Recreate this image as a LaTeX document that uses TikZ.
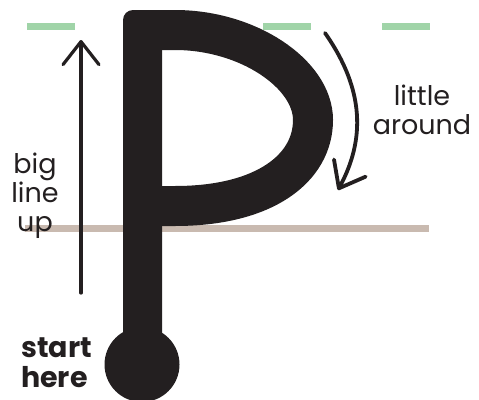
\documentclass[tikz,border=0pt]{standalone}
\usepackage{fontspec}
\setmainfont{Poppins}
\usetikzlibrary{arrows.meta,positioning}
\usepackage{xcolor}
\definecolor{guidegreen}{RGB}{160,212,168}
\definecolor{guidebrown}{RGB}{201,186,176}
\definecolor{inkblack}{RGB}{35,31,32}

\begin{document}
\begin{tikzpicture}[x=1pt, y=-1pt]

\tikzstyle{guide} = [line width=7pt];
\tikzstyle{letter} = [inkblack, line width=40pt];
\tikzstyle{hint} = [inkblack, line width=3.2pt, line cap=round, -{Straight Barb[length=23pt, width=36pt, line cap=round, line join=round]}];
\tikzstyle{label} = [inner sep=0pt, align=center, text=inkblack, font=\fontsize{27}{29}\selectfont];

\useasboundingbox (0,0) rectangle (479,399);

% Guide line unten
\draw[guide, guidebrown] (25,228) -- (429,228);

% Buchstabe P
\draw[letter] (142,30) -- (175,30) .. controls (248,30) and (313,74) .. (313,120) .. controls (313,168) and (265,206) .. (175,206) -- (142,206);
\fill[inkblack, rounded corners=10pt] (123,10) rectangle (162,364);
\fill[inkblack] (142,364.5) circle (37.5);

% Guide line oben
\draw[guide, guidegreen] (27,26.5) -- (75,26.5);
\draw[guide, guidegreen] (263,26.5) -- (311,26.5);
\draw[guide, guidegreen] (382,26.5) -- (430,26.5);

% Hinweise
\coordinate (upfrom) at (81,293);
\coordinate (upto) at (81,40);
\coordinate (roundfrom) at (325,33);
\coordinate (roundto) at (338,190);

\node (bigup) [label, anchor=north] at (35,153) {big\\line\\up};
\node (around) [label, anchor=north] at (422,85) {little\\around};
\node (start) [label, anchor=north west, align=left, font=\fontsize{28.5}{30}\selectfont\bfseries] at (21,338) {start\\here};

\draw[hint] (upfrom) -- (upto);
\draw[hint, line width=3.8pt] (roundfrom) .. controls (365,90) and (365,140) .. (roundto);

\end{tikzpicture}
\end{document}
